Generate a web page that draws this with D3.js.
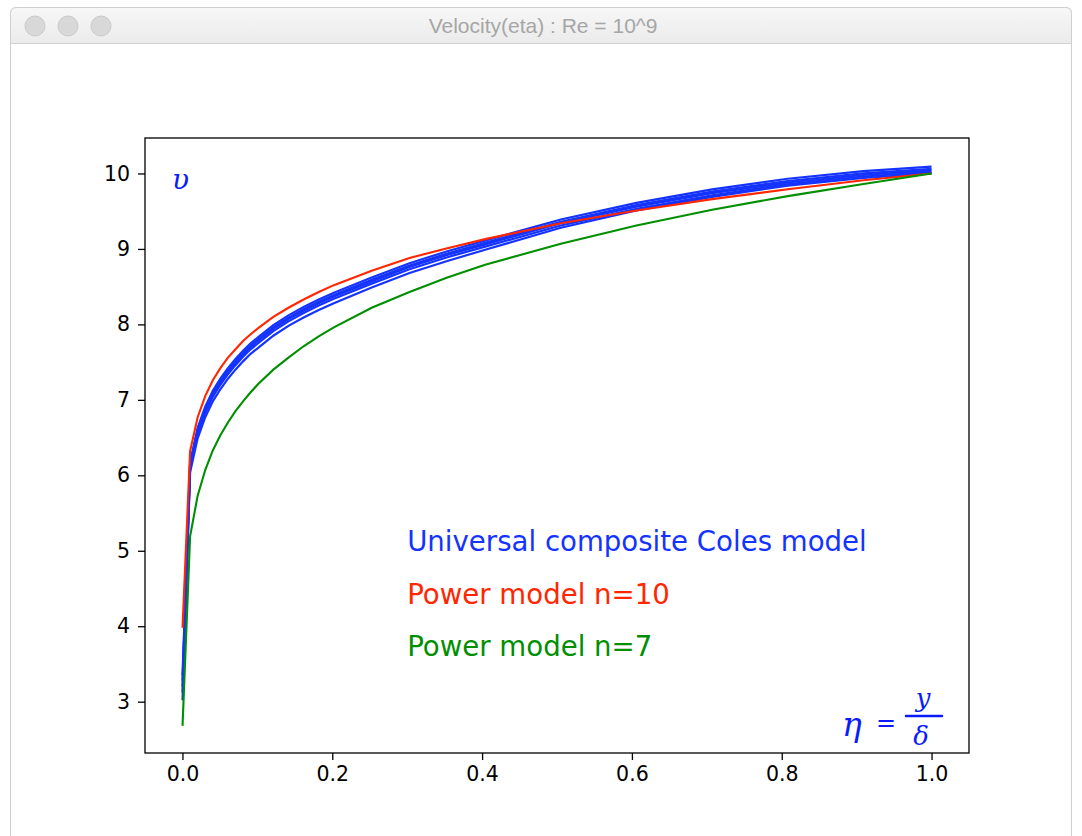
<!DOCTYPE html>
<html>
<head>
<meta charset="utf-8">
<script src="https://cdn.jsdelivr.net/npm/d3@7"></script>
<style>
  html, body { margin: 0; padding: 0; background: #fff; }
  svg { display: block; }
</style>
</head>
<body>
<div id="chart"></div>
<script>
// eta = y / delta
const ETA = [0.0001, 0.0102, 0.0203, 0.0304, 0.0405, 0.0506, 0.0607, 0.0708, 0.0809, 0.0910,
  0.1011, 0.1213, 0.1415, 0.1617, 0.1819, 0.2021, 0.2526, 0.3031, 0.3536, 0.4041,
  0.5051, 0.6061, 0.7071, 0.8081, 0.9091, 1.0];

// universal composite Coles model (bundle of blue curves)
const COLES_1 = [3.35, 6.17, 6.63, 6.91, 7.12, 7.28, 7.42, 7.54, 7.65, 7.75, 7.83, 7.99, 8.12, 8.23, 8.33, 8.42, 8.62, 8.81, 8.97, 9.11, 9.39, 9.61, 9.79, 9.93, 10.03, 10.09];
const COLES_2 = [3.28, 6.15, 6.60, 6.88, 7.09, 7.25, 7.39, 7.51, 7.62, 7.72, 7.80, 7.96, 8.09, 8.20, 8.30, 8.39, 8.59, 8.78, 8.94, 9.08, 9.36, 9.58, 9.76, 9.90, 10.00, 10.06];
const COLES_3 = [3.20, 6.12, 6.58, 6.86, 7.07, 7.23, 7.37, 7.49, 7.60, 7.70, 7.78, 7.94, 8.07, 8.18, 8.28, 8.37, 8.57, 8.76, 8.92, 9.06, 9.34, 9.56, 9.74, 9.88, 9.98, 10.04];
const COLES_4 = [3.12, 6.10, 6.55, 6.83, 7.04, 7.20, 7.34, 7.46, 7.57, 7.67, 7.75, 7.91, 8.04, 8.15, 8.25, 8.34, 8.54, 8.73, 8.89, 9.03, 9.31, 9.53, 9.71, 9.86, 9.96, 10.02];
const COLES_5 = [3.02, 6.04, 6.49, 6.77, 6.98, 7.14, 7.28, 7.40, 7.51, 7.61, 7.69, 7.85, 7.98, 8.09, 8.19, 8.28, 8.49, 8.68, 8.84, 8.99, 9.28, 9.51, 9.69, 9.84, 9.94, 10.00];

// power law models
const POWER_N10 = [3.98, 6.32, 6.77, 7.05, 7.26, 7.42, 7.56, 7.67, 7.78, 7.87, 7.95, 8.10, 8.22, 8.33, 8.43, 8.52, 8.71, 8.88, 9.01, 9.13, 9.34, 9.51, 9.66, 9.79, 9.91, 10.00];
const POWER_N7 = [2.68, 5.19, 5.73, 6.07, 6.33, 6.53, 6.70, 6.85, 6.98, 7.10, 7.21, 7.40, 7.56, 7.71, 7.84, 7.96, 8.22, 8.43, 8.62, 8.79, 9.07, 9.31, 9.52, 9.70, 9.86, 10.00];

const X_TICKS = [0.0, 0.2, 0.4, 0.6, 0.8, 1.0];
const Y_TICKS = [3, 4, 5, 6, 7, 8, 9, 10];

const LABELS = ["Universal composite Coles model", "Power model n=10", "Power model n=7"];
const LABEL_Y = [5.0, 4.3, 3.6];

const BLUE = "#1533ff", RED = "#ff2600", GREEN = "#008f00";

const W = 1082, H = 836;
const svg = d3.select("#chart").append("svg")
  .attr("width", W).attr("height", H)
  .style("font-family", "'DejaVu Sans', sans-serif");

/* window chrome */
svg.append("rect").attr("x", 10.5).attr("y", 7.5).attr("width", 1061).attr("height", 840)
  .attr("rx", 6).attr("fill", "#fff").attr("stroke", "#cfcfcf");
const grad = svg.append("defs").append("linearGradient").attr("id", "tb")
  .attr("x1", 0).attr("y1", 0).attr("x2", 0).attr("y2", 1);
grad.append("stop").attr("offset", 0).attr("stop-color", "#f7f7f7");
grad.append("stop").attr("offset", 1).attr("stop-color", "#ebebeb");
svg.append("path")
  .attr("d", "M10.5,43.5 L10.5,13.5 Q10.5,7.5 16.5,7.5 L1065.5,7.5 Q1071.5,7.5 1071.5,13.5 L1071.5,43.5 Z")
  .attr("fill", "url(#tb)").attr("stroke", "#cfcfcf");
svg.append("line").attr("x1", 11).attr("x2", 1071).attr("y1", 43.5).attr("y2", 43.5).attr("stroke", "#d2d2d2");
[35, 68, 101].forEach(cx => {
  svg.append("circle").attr("cx", cx).attr("cy", 26).attr("r", 10)
    .attr("fill", "#d8d8d8").attr("stroke", "#cacaca");
});
svg.append("text").attr("x", 543).attr("y", 33).attr("text-anchor", "middle")
  .style("font-family", "'Liberation Sans', Arial, sans-serif").style("font-size", "21px")
  .style("fill", "#a6a6a6").text("Velocity(eta) : Re = 10^9");

/* axes */
const pL = 145, pR = 969, pT = 138, pB = 753;
const x = d3.scaleLinear().domain([-0.05, 1.05]).range([pL, pR]);
const y = d3.scaleLinear().domain([2.32, 10.47]).range([pB, pT]);

const xAxis = svg.append("g").attr("transform", `translate(0,${pB})`)
  .call(d3.axisBottom(x).tickValues(X_TICKS).tickFormat(d3.format(".1f")).tickSizeOuter(0).tickSize(7).tickPadding(6));
const yAxis = svg.append("g").attr("transform", `translate(${pL},0)`)
  .call(d3.axisLeft(y).tickValues(Y_TICKS).tickFormat(d3.format("d")).tickSizeOuter(0).tickSize(7).tickPadding(8));
[xAxis, yAxis].forEach(a => {
  a.select(".domain").remove();
  a.selectAll(".tick line").attr("stroke", "#000").attr("stroke-width", 1.3);
  a.selectAll("text").style("font-size", "20.5px").style("fill", "#000")
    .style("font-family", "'DejaVu Sans', sans-serif");
});

/* curves */
const line = d3.line().x((d, i) => x(ETA[i])).y(d => y(d));
[COLES_5, COLES_4, COLES_3, COLES_2, COLES_1].forEach(s => {
  svg.append("path").datum(s).attr("d", line)
    .attr("fill", "none").attr("stroke", BLUE).attr("stroke-width", 2.2);
});
svg.append("path").datum(POWER_N10).attr("d", line)
  .attr("fill", "none").attr("stroke", RED).attr("stroke-width", 2.1);
svg.append("path").datum(POWER_N7).attr("d", line)
  .attr("fill", "none").attr("stroke", GREEN).attr("stroke-width", 2.1);

/* frame */
svg.append("rect").attr("x", pL).attr("y", pT).attr("width", pR - pL).attr("height", pB - pT)
  .attr("fill", "none").attr("stroke", "#000").attr("stroke-width", 1.3);

/* model labels placed in data coordinates */
[BLUE, RED, GREEN].forEach((c, i) => {
  svg.append("text").attr("x", x(0.3)).attr("y", y(LABEL_Y[i]))
    .style("font-size", "27.6px").style("fill", c).text(LABELS[i]);
});

/* handwritten notes */
const hand = "'DejaVu Serif', serif";
svg.append("text").attr("x", 172).attr("y", 189)
  .style("font-family", hand).style("font-style", "italic").style("font-size", "28px")
  .style("fill", "#0a1cff").text("υ");
svg.append("text").attr("x", 842).attr("y", 736)
  .style("font-family", hand).style("font-style", "italic").style("font-size", "33px")
  .style("fill", "#0a1cff").text("η");
svg.append("text").attr("x", 876).attr("y", 731)
  .style("font-family", hand).style("font-size", "24px")
  .style("fill", "#0a1cff").text("=");
svg.append("line").attr("x1", 906).attr("x2", 942).attr("y1", 716).attr("y2", 716)
  .attr("stroke", "#0a1cff").attr("stroke-width", 2.5).attr("stroke-linecap", "round");
svg.append("text").attr("x", 923).attr("y", 707).attr("text-anchor", "middle")
  .style("font-family", hand).style("font-style", "italic").style("font-size", "26px")
  .style("fill", "#0a1cff").text("y");
svg.append("text").attr("x", 921).attr("y", 745).attr("text-anchor", "middle")
  .style("font-family", hand).style("font-style", "italic").style("font-size", "26px")
  .style("fill", "#0a1cff").text("δ");
</script>
</body>
</html>
